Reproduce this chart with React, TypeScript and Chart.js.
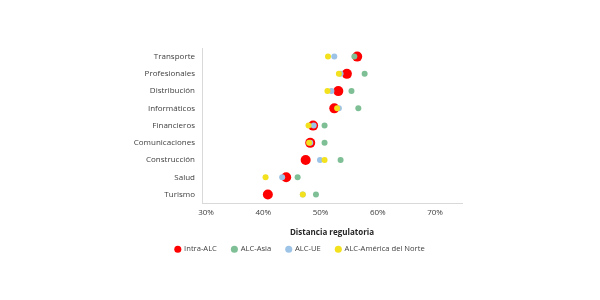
import React, { useEffect, useRef } from "react";
import { Chart, registerables } from "chart.js";

Chart.register(...registerables);

const categories = [
  "Transporte",
  "Profesionales",
  "Distribución",
  "Informáticos",
  "Financieros",
  "Comunicaciones",
  "Construcción",
  "Salud",
  "Turismo",
];

const seriesNames = ["Intra-ALC", "ALC-Asia", "ALC-UE", "ALC-América del Norte"];

const intraALC = [56.4, 54.6, 53.1, 52.4, 48.7, 48.2, 47.4, 44.0, 40.8];
const alcAsia = [55.9, 57.7, 55.4, 56.6, 50.7, 50.7, 53.5, 46.0, 49.2];
const alcUE = [52.4, 53.5, 51.9, 53.2, 48.8, 48.2, 49.9, 43.3, 46.9];
const alcNorteamerica = [51.3, 53.2, 51.2, 52.9, 47.9, 48.0, 50.7, 40.4, 46.9];

const xTicks = [30, 40, 50, 60, 70];

const colors = ["#ff0000", "#7fbf95", "#9dc3e6", "#f2e11c"];
const radii = [5, 3, 3, 3];

const shiftLegend = {
  id: "shiftLegend",
  afterLayout(chart: any) {
    const l = chart.legend;
    if (l) {
      l.top -= 7;
      l.bottom -= 7;
    }
  },
};

export default function App() {
  const ref = useRef<HTMLCanvasElement | null>(null);

  useEffect(() => {
    document.body.style.margin = "0";
    const seriesValues = [intraALC, alcAsia, alcUE, alcNorteamerica];
    const font = { family: "'Open Sans', sans-serif", size: 8 };
    const chart = new Chart(ref.current as HTMLCanvasElement, {
      type: "scatter",
      data: {
        labels: categories,
        datasets: seriesNames.map((name, i) => ({
          label: name,
          data: categories.map((c, j) => ({ x: seriesValues[i][j], y: c })),
          backgroundColor: colors[i],
          borderColor: colors[i],
          borderWidth: 0,
          pointRadius: radii[i],
          pointHoverRadius: radii[i],
          order: 4 - i,
        })) as any,
      },
      plugins: [shiftLegend],
      options: {
        animation: false,
        responsive: false,
        maintainAspectRatio: false,
        layout: { padding: { top: 48, right: 0, bottom: 30, left: 0 } },
        plugins: {
          tooltip: { enabled: false },
          legend: {
            position: "bottom",
            labels: {
              usePointStyle: true,
              pointStyle: "circle",
              boxWidth: 5,
              boxHeight: 5,
              padding: 15,
              color: "#404040",
              font: { family: "'Open Sans', sans-serif", size: 7.6 },
              sort: (a: any, b: any) => a.datasetIndex - b.datasetIndex,
            },
          },
        },
        scales: {
          x: {
            type: "linear",
            min: 29.3,
            max: 74.7,
            afterBuildTicks: (scale: any) => {
              scale.ticks = xTicks.map((v) => ({ value: v }));
            },
            grid: { display: false, drawTicks: false },
            border: { display: true, color: "#d9d9d9", width: 1 },
            ticks: {
              color: "#404040",
              font,
              padding: 5,
              callback: (v: any) => v + "%",
            },
            title: {
              display: true,
              text: "Distancia regulatoria",
              color: "#262626",
              font: { family: "'Open Sans', sans-serif", size: 8, weight: "bold" },
              padding: { top: 5, bottom: 0 },
            },
          },
          y: {
            type: "category",
            labels: categories,
            offset: true,
            grid: { display: false, drawTicks: false },
            border: { display: true, color: "#d9d9d9", width: 1 },
            ticks: { color: "#404040", font, padding: 7 },
            afterFit: (scale: any) => {
              scale.width = 202;
            },
          },
          yRight: {
            type: "linear",
            position: "right",
            display: true,
            grid: { display: false, drawTicks: false },
            border: { display: false },
            ticks: { display: false },
            afterFit: (scale: any) => {
              scale.width = 138;
            },
          },
        },
      },
    });
    return () => chart.destroy();
  }, []);

  return (
    <div style={{ width: 600, height: 300, background: "#fff" }}>
      <canvas ref={ref} width={600} height={300} />
    </div>
  );
}
